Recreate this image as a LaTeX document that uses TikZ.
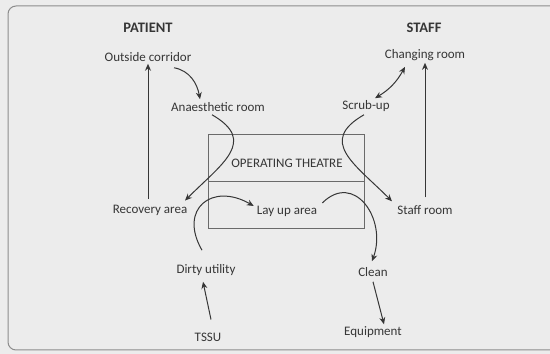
\documentclass[tikz,border=0pt]{standalone}
\usepackage{fontspec}
\setmainfont{Carlito}
\usepackage{xcolor}
\usetikzlibrary{arrows.meta,positioning,calc}
\definecolor{cBack}{HTML}{ECECEC}
\definecolor{cFrame}{HTML}{8C8C8C}
\definecolor{cInk}{HTML}{363636}
\definecolor{cBox}{HTML}{6A6A6A}
\tikzset{
  lab/.style  = {text=cInk, inner sep=2pt, font=\fontsize{13}{15}\selectfont},
  hd/.style   = {lab, font=\fontsize{14.5}{16}\selectfont\bfseries},
  room/.style = {rectangle, draw=cBox, line width=0.8pt, minimum width=156pt,
                 minimum height=47pt, inner sep=0pt},
  fl/.style   = {-{Stealth[length=7pt,width=6pt]}, draw=cInk, line width=1pt},
  fll/.style  = {{Stealth[length=7pt,width=6pt]}-{Stealth[length=7pt,width=6pt]},
                 draw=cInk, line width=1pt},
}
\begin{document}
\begin{tikzpicture}[x=1pt,y=1pt]
  \useasboundingbox (0,0) rectangle (550,354);
  \clip (0,0) rectangle (550,354);
  \fill[cBack] (0,0) rectangle (550,354);
  \draw[cFrame, line width=1pt, rounded corners=8pt] (8,4) rectangle (570,348);

  % headings
  \node[hd] (hp) at (148,326) {PATIENT};
  \node[hd] (hs) at (424,326) {STAFF};

  % rooms
  \node[lab] (oc)  at (148,297) {Outside corridor};
  \node[lab] (cr)  at (425,299) {Changing room};
  \node[lab] (anr) at (218,247) {Anaesthetic room};
  \node[lab] (scr) at (366,248) {Scrub-up};
  \node[room] (otbox)  at (286,196.5) {};
  \node[room] (laybox) at (286,149.5) {};
  \node[lab] (ot)  at (287,191) {OPERATING THEATRE};
  \node[lab] (rec) at (150,144) {Recovery area};
  \node[lab] (lay) at (287,143) {Lay up area};
  \node[lab] (sr)  at (425,144) {Staff room};
  \node[lab] (dirty) at (206,84) {Dirty utility};
  \node[lab] (clean) at (373,82) {Clean};
  \node[lab] (tssu)  at (208,17) {TSSU};
  \node[lab] (equip) at (373,22) {Equipment};

  % patient flow
  \draw[fl] ([xshift=26pt,yshift=-4pt]oc.south) to[out=-10,in=100] ([xshift=-18pt,yshift=1pt]anr.north);
  \draw[fl] ([xshift=-6pt,yshift=-1pt]anr.south) to[out=-30,in=45,looseness=1.5] ([xshift=35pt,yshift=2pt]rec.north);
  \draw[fl] ([yshift=4pt]rec.north -| oc.south) -- (oc.south);

  % staff flow
  \draw[fll] ([xshift=9pt]scr.north) to[bend right=15] ([xshift=-20pt,yshift=-4pt]cr.south);
  \draw[fl] ([xshift=-2pt,yshift=-1pt]scr.south) to[out=-150,in=135,looseness=1.5] ([xshift=-33pt,yshift=2pt]sr.north);
  \draw[fl] ([yshift=6pt]sr.north -| cr.south) -- (cr.south);

  % equipment flow
  \draw[fl] ([xshift=-4pt,yshift=12pt]dirty.north) to[out=120,in=150,looseness=1.8] ([xshift=-1pt,yshift=5pt]lay.west);
  \draw[fl] ([xshift=3pt,yshift=8pt]lay.east) to[out=45,in=70,looseness=1.5] ([xshift=-1pt,yshift=4pt]clean.north);
  \draw[fl] ([xshift=3pt,yshift=11pt]tssu.north) -- ([xshift=-3pt,yshift=-4pt]dirty.south);
  \draw[fl] ([yshift=-3pt]clean.south) -- ([xshift=11pt]equip.north);
\end{tikzpicture}
\end{document}
